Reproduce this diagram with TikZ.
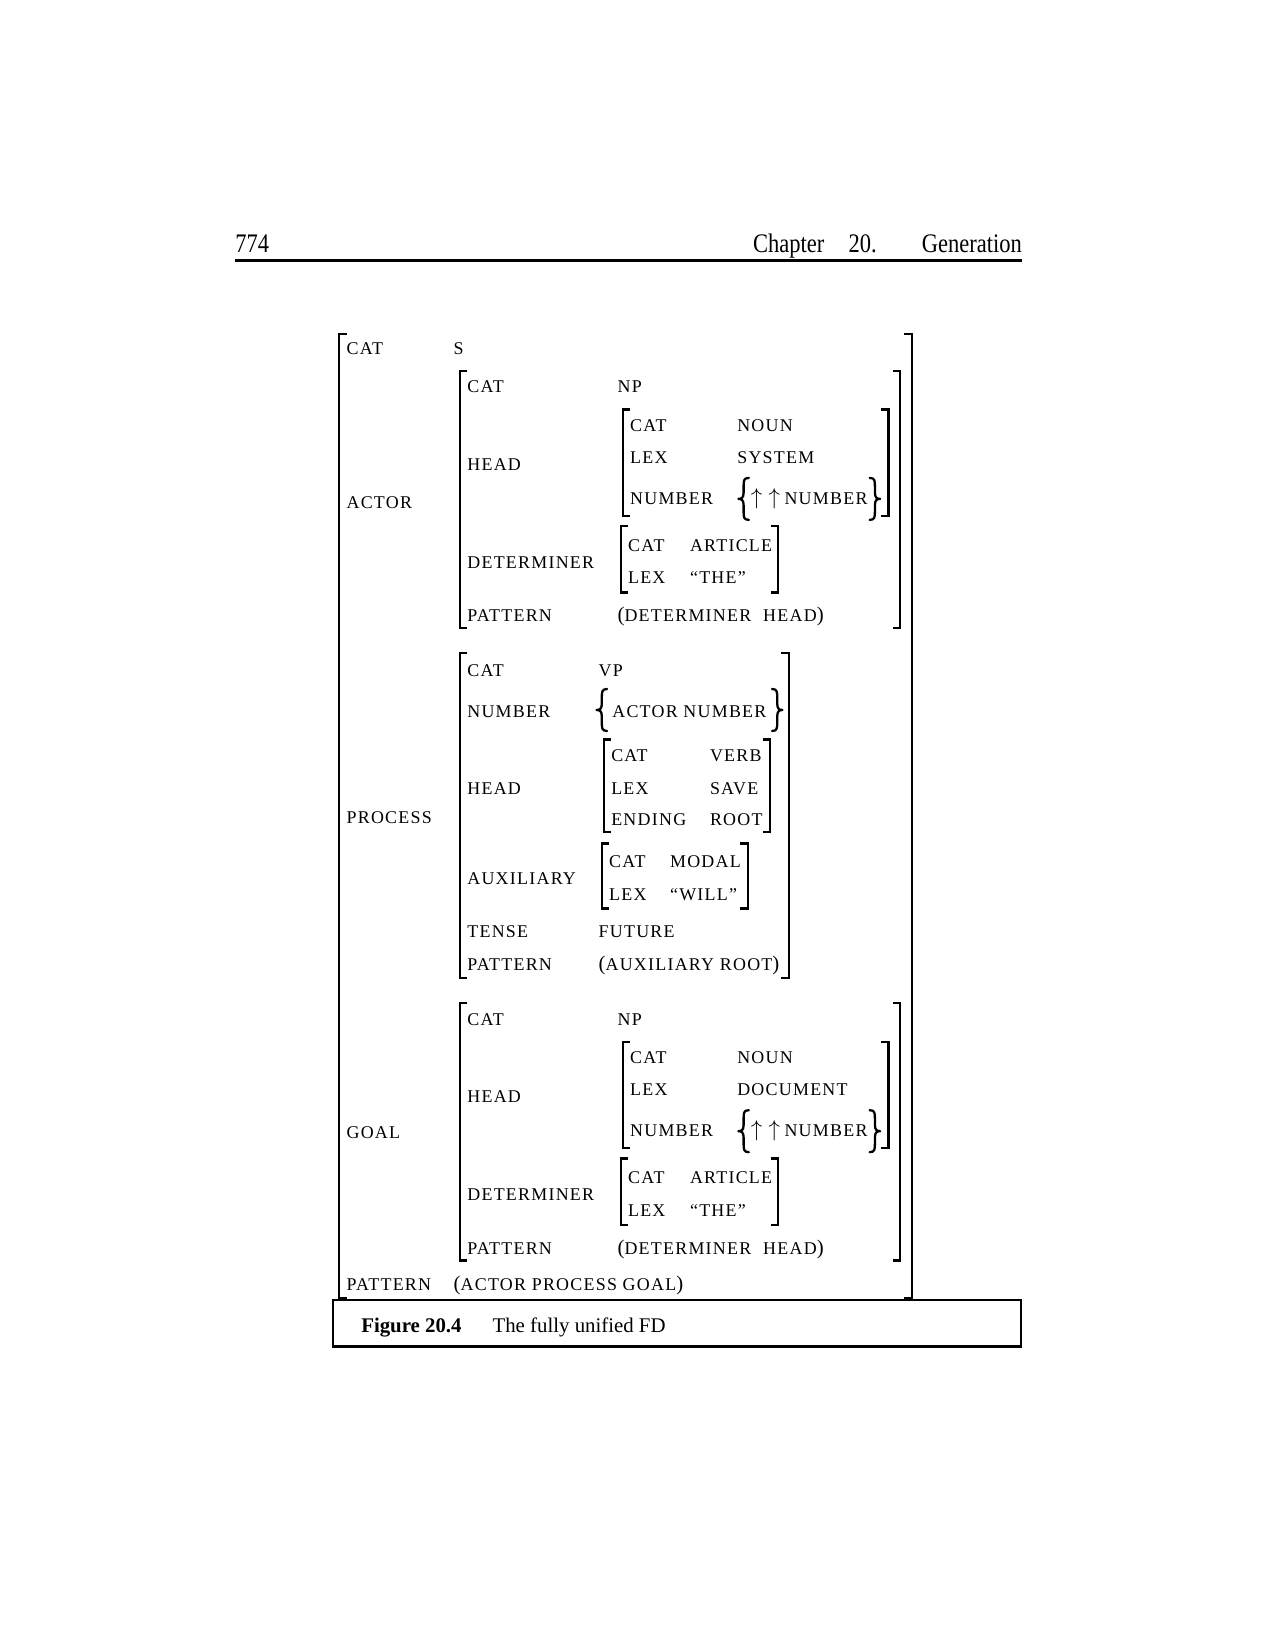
\documentclass[tikz,border=0pt]{standalone}
\usepackage{fontspec}
\setmainfont{Liberation Serif}
\newfontfamily\fdfont[LetterSpace=7]{Liberation Serif}
\newcommand\fdsize{\fdfont\fontsize{8.6}{10}\selectfont}
\newcommand\lp{{\fontsize{10}{10}\selectfont(}}
\newcommand\rp{{\fontsize{10}{10}\selectfont)}}
\newcommand\uparr{{\fontsize{10.5}{10}\selectfont$\uparrow\mkern5mu\uparrow$}}
% curly braces drawn as shapes: #1 spine x, #2 centre y
\newcommand\lbrc[2]{\draw[brc] (#1+5,#2-20) .. controls (#1,#2-20) and (#1,#2-17) .. (#1,#2-12) -- (#1,#2-6) .. controls (#1,#2-1) and (#1-2,#2) .. (#1-5,#2) .. controls (#1-2,#2) and (#1,#2+1) .. (#1,#2+6) -- (#1,#2+12) .. controls (#1,#2+17) and (#1,#2+20) .. (#1+5,#2+20);}
\newcommand\rbrc[2]{\draw[brc] (#1-5,#2-20) .. controls (#1,#2-20) and (#1,#2-17) .. (#1,#2-12) -- (#1,#2-6) .. controls (#1,#2-1) and (#1+2,#2) .. (#1+5,#2) .. controls (#1+2,#2) and (#1,#2+1) .. (#1,#2+6) -- (#1,#2+12) .. controls (#1,#2+17) and (#1,#2+20) .. (#1-5,#2+20);}
\newcommand\lbrk[3]{\draw[brk] (#1+7,#2) -- (#1,#2) -- (#1,#3) -- (#1+7,#3);}
\newcommand\rbrk[3]{\draw[brk] (#1-7,#2) -- (#1,#2) -- (#1,#3) -- (#1-7,#3);}
\newcommand\fdt[4]{\node[fd] (#1) at (#2,#3+8) {#4};}
\newcommand\npblock[3]{%
 \lbrk{438}{353+#1}{598+#1}
 \rbrk{857}{353+#1}{598+#1}
 \fdt{#3cat}{445}{366+#1}{CAT}
 \fdt{#3np}{588}{366+#1}{NP}
 \fdt{#3head}{445}{440+#1}{HEAD}
 \lbrk{593}{390+#1}{491+#1}
 \rbrk{846}{390+#1}{491+#1}
 \fdt{#3hcat}{600}{403+#1}{CAT}
 \fdt{#3hnoun}{702}{403+#1}{NOUN}
 \fdt{#3hlex}{600}{433+#1}{LEX}
 \fdt{#3hlexv}{702}{433+#1}{#2}
 \fdt{#3hnum}{600}{472+#1}{NUMBER}
 \lbrc{708}{475+#1}
 \fdt{#3arr}{715}{472+#1}{\uparr}
 \fdt{#3hnumv}{747}{472+#1}{NUMBER}
 \rbrc{833}{475+#1}
 \lbrk{591}{501+#1}{564+#1}
 \rbrk{741}{501+#1}{564+#1}
 \fdt{#3det}{445}{533+#1}{DETERMINER}
 \fdt{#3dcat}{598}{517+#1}{CAT}
 \fdt{#3dart}{657}{517+#1}{ARTICLE}
 \fdt{#3dlex}{598}{548+#1}{LEX}
 \fdt{#3dthe}{657}{548+#1}{“THE”}
 \fdt{#3pat}{445}{584+#1}{PATTERN}
 \fdt{#3patv}{588}{584+#1}{\lp DETERMINER\hspace{3pt} HEAD\rp}
}
\begin{document}
\begin{tikzpicture}[x=0.50412pt,y=-0.50412pt,
  fd/.style={font=\fdsize, anchor=base west, inner sep=0pt, outer sep=0pt},
  brc/.style={line width=1.1pt, line cap=round, line join=round},
  brk/.style={line width=1.1pt, line cap=butt, line join=miter},
  hdr/.style={font=\fontsize{10.8}{12}\selectfont, inner sep=0pt, outer sep=0pt},
  captxt/.style={font=\fontsize{10}{12}\selectfont, anchor=base west, inner sep=0pt, outer sep=0pt}]
\fill[white] (0,0) rectangle (1214,1571);
% header
\node[hdr, anchor=base west] (pg) at (224,240) {\scalebox{1}[1.19]{774}};
\node[hdr, anchor=base west] (chap) at (717,240) {\scalebox{1}[1.19]{Chapter}};
\node[hdr, anchor=base west] (chnum) at (808,240) {\scalebox{1}[1.19]{20.}};
\node[hdr, anchor=base east] (gen) at (973,240) {\scalebox{1}[1.19]{Generation}};
\draw[line width=1.2pt] (224,248) -- (973,248);
% outer FD
\lbrk{323}{318}{1236}
\rbrk{868}{318}{1236}
\fdt{cat}{330}{330}{CAT}
\fdt{s}{432}{330}{S}
\fdt{actor}{330}{476}{ACTOR}
\fdt{process}{330}{776}{PROCESS}
\fdt{goal}{330}{1076}{GOAL}
\fdt{pat}{330}{1221}{PATTERN}
\fdt{patv}{432}{1221}{\lp ACTOR PROCESS GOAL\rp}
% actor and goal
\npblock{0}{SYSTEM}{a}
\npblock{602}{DOCUMENT}{g}
% process
\lbrk{438}{622}{931}
\rbrk{751}{622}{931}
\fdt{pcat}{445}{636}{CAT}
\fdt{pvp}{570}{636}{VP}
\fdt{pnum}{445}{675}{NUMBER}
\lbrc{573}{676}
\fdt{pnumv}{583}{675}{ACTOR NUMBER}
\rbrc{740}{676}
\fdt{phead}{445}{748}{HEAD}
\lbrk{575}{704}{792}
\rbrk{733}{704}{792}
\fdt{phcat}{582}{717}{CAT}
\fdt{phverb}{676}{717}{VERB}
\fdt{phlex}{582}{748}{LEX}
\fdt{phsave}{676}{748}{SAVE}
\fdt{phend}{582}{778}{ENDING}
\fdt{phroot}{676}{778}{ROOT}
\fdt{paux}{445}{834}{AUXILIARY}
\lbrk{573}{803}{865}
\rbrk{712}{803}{865}
\fdt{pacat}{580}{818}{CAT}
\fdt{pamodal}{638}{818}{MODAL}
\fdt{palex}{580}{849}{LEX}
\fdt{pawill}{638}{849}{“WILL”}
\fdt{ptense}{445}{885}{TENSE}
\fdt{pfut}{570}{885}{FUTURE}
\fdt{ppat}{445}{916}{PATTERN}
\fdt{ppatv}{570}{916}{\lp AUXILIARY ROOT\rp}
% caption
\draw[line width=1.1pt] (317,1238) rectangle (972,1282);
\node[captxt] (fig) at (344,1269) {\textbf{Figure 20.4}};
\node[captxt] (figt) at (469,1269) {The fully unified FD};
\end{tikzpicture}
\end{document}
